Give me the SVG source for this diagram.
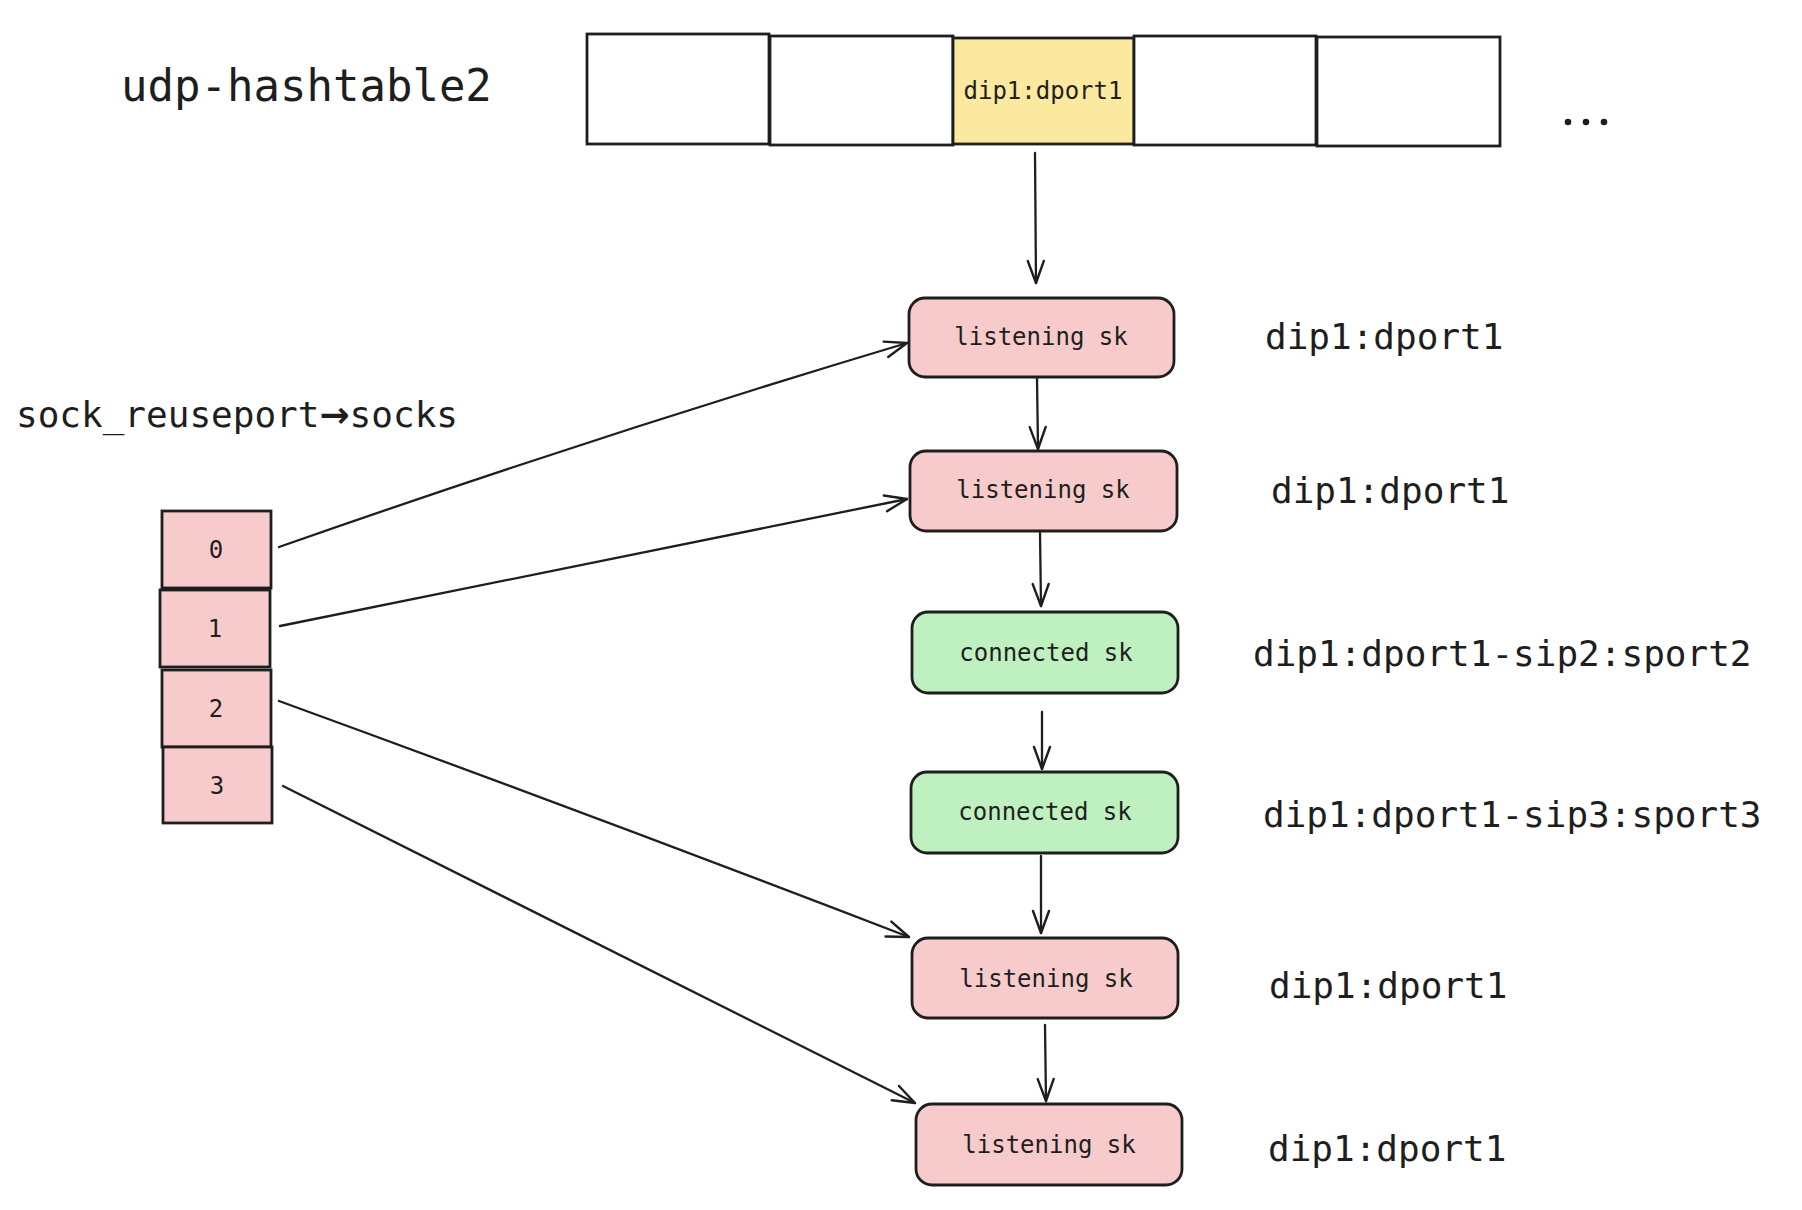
<svg xmlns="http://www.w3.org/2000/svg" width="1802" height="1210" viewBox="0 0 1802 1210">
<defs>
<marker id="arr" viewBox="-24 -12 28 24" refX="0" refY="0" markerWidth="28" markerHeight="24" markerUnits="userSpaceOnUse" orient="auto">
<path d="M -22 -8 L 0 0 L -22 8" fill="none" stroke="#1e1e1e" stroke-width="2.4" stroke-linecap="round" stroke-linejoin="round"/>
</marker>
<style>
.t{font-family:"DejaVu Sans Mono","Liberation Mono",monospace;fill:#1e1e1e}
.cell{fill:#ffffff;stroke:#1e1e1e;stroke-width:2.8}
.yel{fill:#fbe9a0;stroke:#1e1e1e;stroke-width:2.8}
.pink{fill:#f7cbcb;stroke:#1e1e1e;stroke-width:2.8}
.green{fill:#bff0c0;stroke:#1e1e1e;stroke-width:2.8}
.node{font-size:24px;text-anchor:middle}
.lab{font-size:36px}
.conn path{fill:none;stroke:#1e1e1e;stroke-width:2.3;stroke-linecap:round;marker-end:url(#arr)}
</style>
</defs>
<rect width="1802" height="1210" fill="#ffffff"/>

<g id="title"><text class="t" x="121" y="101" font-size="44">udp-hashtable2</text></g>

<g id="hashtable">
<rect class="cell" x="587" y="34" width="182" height="110"/>
<rect class="cell" x="770" y="36" width="183" height="109"/>
<g id="bucket-dip1"><rect class="yel" x="953" y="38" width="181" height="106"/>
<text class="t node" x="1043" y="99">dip1:dport1</text></g>
<rect class="cell" x="1134" y="36" width="182" height="109"/>
<rect class="cell" x="1317" y="37" width="183" height="109"/>
</g>
<g id="ellipsis">
<circle cx="1568" cy="122" r="3.3" fill="#1e1e1e"/>
<circle cx="1586" cy="122" r="3.3" fill="#1e1e1e"/>
<circle cx="1604" cy="122" r="3.3" fill="#1e1e1e"/>
</g>

<g id="socks-label"><text class="t lab" x="16" y="427" font-size="37">sock_reuseport<tspan font-family="DejaVu Sans,sans-serif" font-weight="bold">→</tspan>socks</text></g>

<g id="socks">
<g id="sock0"><rect class="pink" x="162" y="511" width="109" height="77"/><text class="t node" x="216" y="558">0</text></g>
<g id="sock1"><rect class="pink" x="160" y="590" width="110" height="77"/><text class="t node" x="215" y="637">1</text></g>
<g id="sock2"><rect class="pink" x="162" y="670" width="109" height="77"/><text class="t node" x="216" y="717">2</text></g>
<g id="sock3"><rect class="pink" x="163" y="747" width="109" height="76"/><text class="t node" x="217" y="794">3</text></g>
</g>

<g id="n1"><rect class="pink" x="909" y="298" width="265" height="79" rx="16"/><text class="t node" x="1041" y="345">listening sk</text></g>
<g id="n2"><rect class="pink" x="910" y="451" width="267" height="80" rx="16"/><text class="t node" x="1043" y="498">listening sk</text></g>
<g id="n3"><rect class="green" x="912" y="612" width="266" height="81" rx="16"/><text class="t node" x="1046" y="661">connected sk</text></g>
<g id="n4"><rect class="green" x="911" y="772" width="267" height="81" rx="16"/><text class="t node" x="1045" y="820">connected sk</text></g>
<g id="n5"><rect class="pink" x="912" y="938" width="266" height="80" rx="16"/><text class="t node" x="1046" y="987">listening sk</text></g>
<g id="n6"><rect class="pink" x="916" y="1104" width="266" height="81" rx="16"/><text class="t node" x="1049" y="1153">listening sk</text></g>

<g id="labels">
<text class="t lab" x="1265" y="349">dip1:dport1</text>
<text class="t lab" x="1271" y="503">dip1:dport1</text>
<text class="t lab" x="1253" y="666">dip1:dport1-sip2:sport2</text>
<text class="t lab" x="1263" y="827">dip1:dport1-sip3:sport3</text>
<text class="t lab" x="1269" y="998">dip1:dport1</text>
<text class="t lab" x="1268" y="1161">dip1:dport1</text>
</g>

<g id="connectors" class="conn">
<path d="M 1035 153 L 1036 283"/>
<path d="M 1037 378 L 1038 449"/>
<path d="M 1040 532 L 1041 606"/>
<path d="M 1042 712 L 1042 769"/>
<path d="M 1041 856 L 1041 933"/>
<path d="M 1045 1025 L 1046 1101"/>
<path d="M 279 547 Q 590 438 907 343"/>
<path d="M 280 626 Q 595 562 907 499"/>
<path d="M 279 701 Q 600 818 909 937"/>
<path d="M 283 786 Q 600 945 915 1103"/>
</g>
</svg>
